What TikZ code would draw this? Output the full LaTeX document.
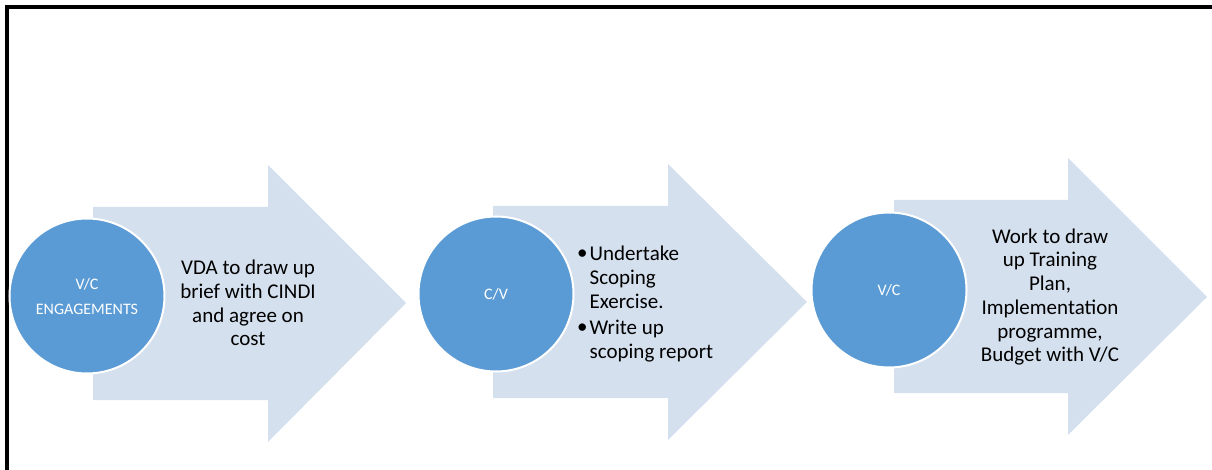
\documentclass[tikz,border=0pt]{standalone}
\usepackage{fontspec}
\setmainfont{Carlito}
\definecolor{arrowfill}{HTML}{D5E0EE}
\definecolor{circfill}{HTML}{5B9BD5}
\begin{document}
\begin{tikzpicture}[x=1pt,y=-1pt,
  flowarrow/.style={fill=arrowfill,draw=none},
  stagecirc/.style={circle,fill=circfill,draw=white,line width=2pt,minimum size=155pt,inner sep=0pt,
    text=white,font=\fontsize{16}{19}\selectfont,align=center},
  steptext/.style={font=\fontsize{21}{23.7}\selectfont,align=center,text=black,inner sep=0pt},
  frameline/.style={line width=3.5pt,draw=black}]
\useasboundingbox (0,0) rectangle (1212,470);
% frame
\coordinate (fa) at (7,470);
\coordinate (fb) at (7,7);
\coordinate (fc) at (1212,7);
\draw[frameline] (fa) -- (fb) -- (fc);
% arrows
\fill[flowarrow] (93,207) -- (268,207) -- (268,165) -- (406,303) -- (268,442) -- (268,400) -- (93,400) -- cycle;
\fill[flowarrow] (493,206) -- (668,206) -- (668,164) -- (807,302) -- (668,440) -- (668,398) -- (493,398) -- cycle;
\fill[flowarrow] (894,200) -- (1068,200) -- (1068,158) -- (1207,297) -- (1068,435) -- (1068,393) -- (894,393) -- cycle;
% circles
\node[stagecirc] (c1) at (87,296) {V/C\\[6pt]ENGAGEMENTS};
\node[stagecirc] (c2) at (496,294) {C/V};
\node[stagecirc] (c3) at (889,290) {V/C};
% texts
\node[steptext] (t1) at (248,303) {VDA to draw up\\brief with CINDI\\and agree on\\cost};
\node[steptext,anchor=west] (t2) at (577,305) {\begin{tabular}{@{}l@{\hspace{2pt}}l@{}}\raisebox{1pt}{\textbullet} & Undertake\\ & Scoping\\ & Exercise.\\[3pt]\raisebox{1pt}{\textbullet} & Write up\\ & scoping report\end{tabular}};
\node[steptext] (t3) at (1050,297) {Work to draw\\up Training\\Plan,\\Implementation\\programme,\\Budget with V/C};
\end{tikzpicture}
\end{document}
